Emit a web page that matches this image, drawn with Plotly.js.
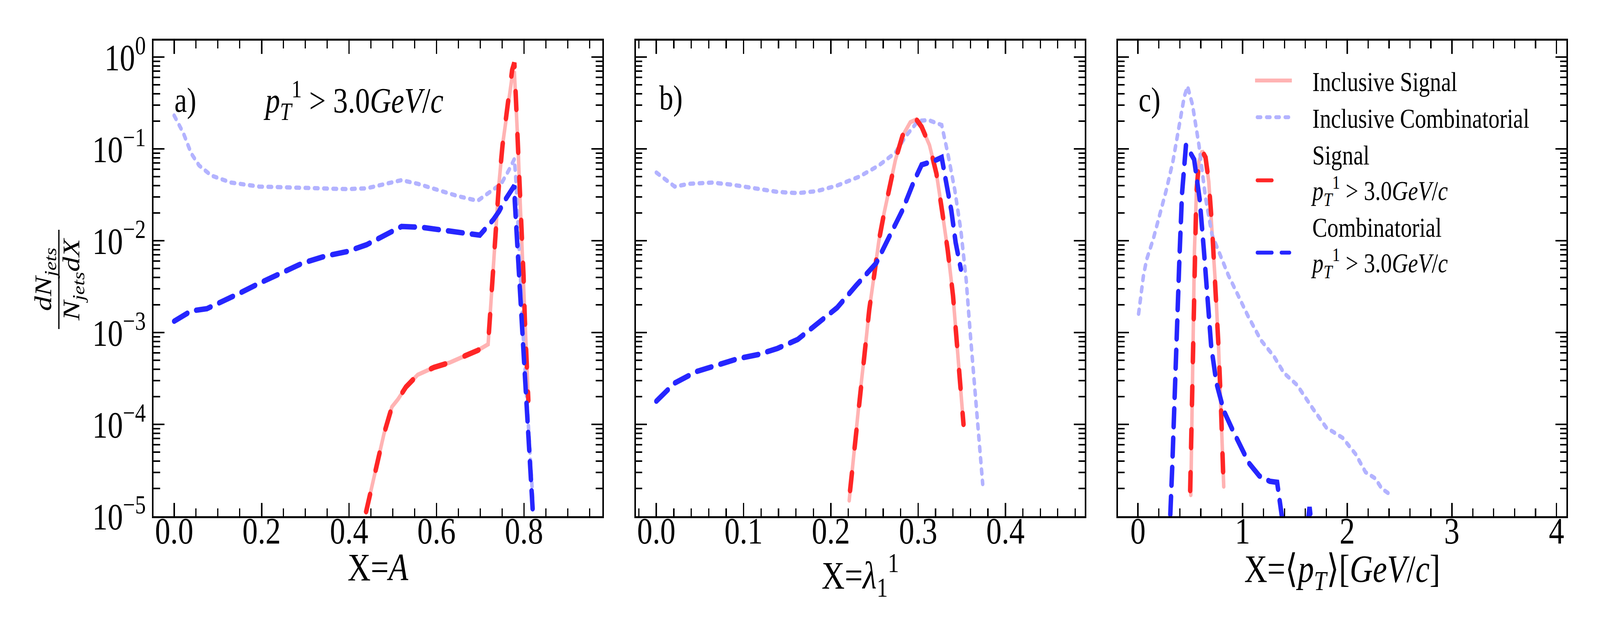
<!DOCTYPE html>
<html>
<head>
<meta charset="utf-8">
<script src="https://cdn.plot.ly/plotly-3.0.1.min.js"></script>
<style>html,body{margin:0;padding:0;background:#fff;overflow:hidden;}</style>
</head>
<body>
<div id="chart" style="width:5000px;height:1625px;"></div>
<script>
// ---------------- DATA ----------------
// Panel a) X = A
const aIncSigX  = [0.439, 0.462, 0.48, 0.498, 0.512, 0.53, 0.557, 0.594, 0.63, 0.666, 0.694, 0.718, 0.728, 0.735, 0.743, 0.751, 0.765, 0.773, 0.778, 0.782, 0.787, 0.79, 0.794, 0.799, 0.802, 0.806, 0.81];
const aIncSigY  = [1.12e-5, 3.5e-5, 7.94e-5, 1.55e-4, 1.88e-4, 2.55e-4, 3.47e-4, 4.17e-4, 4.71e-4, 5.6e-4, 6.38e-4, 7.45e-4, 4.17e-3, 1.45e-2, 4.27e-2, 0.11, 0.331, 0.62, 0.7, 0.331, 0.0933, 0.0372, 0.0123, 4.17e-3, 1.38e-3, 4.68e-4, 1.82e-4];
const aIncCombX = [0, 0.021, 0.039, 0.057, 0.085, 0.13, 0.194, 0.266, 0.33, 0.394, 0.44, 0.475, 0.52, 0.557, 0.60, 0.648, 0.694, 0.72, 0.748, 0.766, 0.778, 0.781, 0.786, 0.792, 0.80, 0.81, 0.82];
const aIncCombY = [0.231, 0.149, 0.0893, 0.0661, 0.0513, 0.043, 0.0389, 0.038, 0.038, 0.0365, 0.0372, 0.0407, 0.0457, 0.0417, 0.0357, 0.0307, 0.0272, 0.0331, 0.0417, 0.0594, 0.0776, 0.0501, 0.0178, 3.98e-3, 6.31e-4, 1.0e-4, 1.58e-5];
const aSigX     = [0.439, 0.462, 0.48, 0.498, 0.512, 0.53, 0.557, 0.594, 0.63, 0.666, 0.694, 0.718, 0.728, 0.735, 0.743, 0.751, 0.765, 0.773, 0.778, 0.782, 0.787, 0.79, 0.794, 0.799, 0.802, 0.806, 0.81];
const aSigY     = [1.12e-5, 3.5e-5, 7.94e-5, 1.55e-4, 1.88e-4, 2.55e-4, 3.47e-4, 4.17e-4, 4.71e-4, 5.6e-4, 6.38e-4, 7.45e-4, 4.17e-3, 1.45e-2, 4.27e-2, 0.11, 0.331, 0.724, 0.87, 0.331, 0.0933, 0.0372, 0.0123, 4.17e-3, 1.38e-3, 4.68e-4, 1.82e-4];
const aCombX    = [0, 0.039, 0.075, 0.112, 0.148, 0.194, 0.239, 0.294, 0.348, 0.394, 0.44, 0.485, 0.52, 0.566, 0.62, 0.666, 0.699, 0.73, 0.743, 0.755, 0.772, 0.778, 0.779, 0.784, 0.791, 0.801, 0.811, 0.819, 0.822];
const aCombY    = [1.33e-3, 1.72e-3, 1.82e-3, 2.17e-3, 2.66e-3, 3.43e-3, 4.3e-3, 5.71e-3, 6.85e-3, 7.59e-3, 9.04e-3, 1.16e-2, 1.43e-2, 1.4e-2, 1.29e-2, 1.2e-2, 1.15e-2, 1.7e-2, 2.09e-2, 2.69e-2, 3.72e-2, 3.98e-2, 2.69e-2, 1.06e-2, 2.4e-3, 3.39e-4, 6.17e-5, 1.62e-5, 8.0e-6];

// Panel b) X = lambda_1^1
const bIncSigX  = [0.221, 0.227, 0.233, 0.239, 0.244, 0.25, 0.255, 0.261, 0.267, 0.274, 0.282, 0.291, 0.298, 0.304, 0.313, 0.321, 0.328, 0.334, 0.34, 0.345, 0.349, 0.352];
const bIncSigY  = [1.48e-5, 5.62e-5, 2.0e-4, 6.31e-4, 1.78e-3, 4.47e-3, 1.0e-2, 2.0e-2, 3.8e-2, 7.59e-2, 0.138, 0.195, 0.209, 0.174, 0.11, 0.0537, 0.0195, 7.76e-3, 2.51e-3, 6.76e-4, 2.0e-4, 1.0e-4];
const bIncCombX = [0, 0.01, 0.021, 0.038, 0.064, 0.087, 0.113, 0.139, 0.162, 0.184, 0.207, 0.233, 0.255, 0.274, 0.285, 0.30, 0.312, 0.327, 0.334, 0.342, 0.349, 0.355, 0.36, 0.366, 0.372, 0.374];
const bIncCombY = [0.0553, 0.0471, 0.0389, 0.0417, 0.043, 0.0407, 0.0376, 0.034, 0.033, 0.0347, 0.0398, 0.0501, 0.0661, 0.0912, 0.134, 0.202, 0.206, 0.182, 0.0893, 0.0357, 0.0129, 3.8e-3, 9.12e-4, 2.0e-4, 4.3e-5, 2.24e-5];
const bSigX     = [0.222, 0.227, 0.233, 0.239, 0.244, 0.25, 0.255, 0.261, 0.267, 0.274, 0.282, 0.291, 0.298, 0.304, 0.313, 0.321, 0.328, 0.334, 0.34, 0.345, 0.349, 0.352];
const bSigY     = [1.9e-5, 5.62e-5, 2.0e-4, 6.31e-4, 1.78e-3, 4.47e-3, 1.0e-2, 2.0e-2, 3.8e-2, 7.59e-2, 0.138, 0.195, 0.209, 0.174, 0.11, 0.0537, 0.0195, 7.76e-3, 2.51e-3, 6.76e-4, 2.0e-4, 1.0e-4];
const bCombX    = [0, 0.021, 0.046, 0.068, 0.094, 0.117, 0.139, 0.162, 0.184, 0.207, 0.229, 0.252, 0.267, 0.282, 0.295, 0.304, 0.319, 0.327, 0.332, 0.338, 0.343, 0.349];
const bCombY    = [1.79e-4, 2.82e-4, 3.76e-4, 4.34e-4, 5.21e-4, 5.77e-4, 6.73e-4, 8.41e-4, 1.24e-3, 1.86e-3, 3.26e-3, 5.71e-3, 1.11e-2, 2.15e-2, 4.39e-2, 6.71e-2, 7.45e-2, 8.07e-2, 4.39e-2, 2.15e-2, 9.55e-3, 4.9e-3];

// Panel c) X = <pT> [GeV/c]
const cIncSigX  = [0.505, 0.515, 0.527, 0.54, 0.558, 0.583, 0.615, 0.646, 0.677, 0.708, 0.74, 0.771, 0.793, 0.808, 0.82];
const cIncSigY  = [1.7e-5, 1.62e-4, 1.24e-3, 7.76e-3, 3.24e-2, 7.29e-2, 9.5e-2, 8.07e-2, 4.39e-2, 1.43e-2, 3.43e-3, 6.71e-4, 1.62e-4, 5.82e-5, 2.1e-5];
const cIncCombX = [0.006, 0.053, 0.084, 0.147, 0.209, 0.271, 0.334, 0.396, 0.443, 0.474, 0.521, 0.583, 0.646, 0.708, 0.771, 0.864, 0.958, 1.051, 1.176, 1.30, 1.395, 1.52, 1.676, 1.80, 1.956, 2.08, 2.175, 2.268, 2.33, 2.424];
const cIncCombY = [1.6e-3, 4.21e-3, 6.31e-3, 1.05e-2, 1.94e-2, 3.57e-2, 7.29e-2, 0.182, 0.372, 0.48, 0.303, 0.11, 0.0292, 0.0116, 7.76e-3, 4.21e-3, 2.53e-3, 1.52e-3, 8.24e-4, 5.5e-4, 3.63e-4, 2.69e-4, 1.46e-4, 9.23e-5, 7.14e-5, 4.75e-5, 3.02e-5, 2.58e-5, 2.0e-5, 1.68e-5];
const cSigX     = [0.499, 0.515, 0.527, 0.54, 0.558, 0.583, 0.615, 0.646, 0.677, 0.708, 0.74, 0.771, 0.793, 0.808, 0.817];
const cSigY     = [1.9e-5, 1.62e-4, 1.24e-3, 7.76e-3, 3.24e-2, 7.29e-2, 9.4e-2, 8.07e-2, 4.39e-2, 1.43e-2, 3.43e-3, 6.71e-4, 1.62e-4, 5.82e-5, 2.34e-5];
const cCombX    = [0.305, 0.309, 0.328, 0.349, 0.371, 0.396, 0.421, 0.443, 0.459, 0.537, 0.59, 0.63, 0.67, 0.70, 0.75, 0.82, 0.90, 0.98, 1.06, 1.16, 1.26, 1.33, 1.37, 1.40, 1.60, 1.64, 1.68];
const cCombY    = [5.0e-6, 1.03e-5, 3.5e-5, 2.19e-4, 1.51e-3, 6.31e-3, 3.24e-2, 8.51e-2, 0.11, 7.67e-2, 2.82e-2, 7.94e-3, 2.0e-3, 7.08e-4, 2.82e-4, 1.41e-4, 8.91e-5, 5.89e-5, 3.8e-5, 2.75e-5, 2.4e-5, 2.34e-5, 1.2e-5, 6.3e-6, 5.0e-6, 1.26e-5, 5.0e-6];

// Labels
const seriesNames = ["Inclusive Signal", "Inclusive Combinatorial",
  "Signal<br><i>p</i><sub><i>T</i></sub><sup>1</sup> > 3.0<i>GeV</i>/<i>c</i>",
  "Combinatorial<br><i>p</i><sub><i>T</i></sub><sup>1</sup> > 3.0<i>GeV</i>/<i>c</i>"];
const yTickVals = [1e-5, 1e-4, 1e-3, 1e-2, 1e-1, 1];
const yTickText = ["10<sup>−5</sup>", "10<sup>−4</sup>", "10<sup>−3</sup>", "10<sup>−2</sup>", "10<sup>−1</sup>", "10<sup>0</sup>"];
const xTitles = ["X=<i>A</i>", "X=<i>λ</i><sub>1</sub><sup>1</sup>", "X=⟨<i>p</i><sub><i>T</i></sub>⟩[<i>GeV</i>/<i>c</i>]"];
const panelTags = ["a)", "b)", "c)"];
const cutLabel = "<i>p</i><sub><i>T</i></sub><sup>1</sup> > 3.0<i>GeV</i>/<i>c</i>";
const yTitleNum = "<i>dN</i><sub><i>jets</i></sub>";
const yTitleDen = "<i>N</i><sub><i>jets</i></sub><i>dX</i>";

// ---------------- STYLE ----------------
const FONT = "Liberation Serif";
const W = 5000, H = 1625;
const styles = [
  {color: "#ffb3b3", width: 11, dash: "solid"},
  {color: "#b3b3ff", width: 11, dash: "11px,18px"},
  {color: "#ff2626", width: 14, dash: "46px,64px"},
  {color: "#2626ff", width: 14, dash: "46px,29px"}
];

const panels = [
  {xs: [aIncSigX, aIncCombX, aSigX, aCombX], ys: [aIncSigY, aIncCombY, aSigY, aCombY]},
  {xs: [bIncSigX, bIncCombX, bSigX, bCombX], ys: [bIncSigY, bIncCombY, bSigY, bCombY]},
  {xs: [cIncSigX, cIncCombX, cSigX, cCombX], ys: [cIncSigY, cIncCombY, cSigY, cCombY]}
];

const traces = [];
panels.forEach((p, pi) => {
  const sfx = pi === 0 ? "" : String(pi + 1);
  for (let k = 0; k < 4; k++) {
    traces.push({
      type: "scatter", mode: "lines",
      x: p.xs[k], y: p.ys[k],
      xaxis: "x" + sfx, yaxis: "y" + sfx,
      name: seriesNames[k],
      showlegend: pi === 2,
      line: {color: styles[k].color, width: styles[k].width, dash: styles[k].dash, shape: "linear"},
      hoverinfo: "skip"
    });
  }
});

// plot boxes in pixels of the 5000x1625 figure
const boxX = [[480, 1882], [1987, 3390], [3494, 4895]];
const boxTop = 104, boxBot = 1321;
const xRanges = [[-0.047, 0.979], [-0.0235, 0.491], [-0.19, 4.095]];
const xDticks = [0.2, 0.1, 1];
const xMinor = [0.05, 0.02, 0.2];
const xFormats = [".1f", ".1f", "d"];
const xTitleShift = [-16, -10, -12];

const tickFont = {family: FONT, size: 96, color: "black"};
const layout = {
  width: W, height: H,
  margin: {l: 0, r: 0, t: 0, b: 0},
  paper_bgcolor: "white", plot_bgcolor: "white",
  showlegend: true,
  legend: {
    x: 3917 / W, xanchor: "left", y: 1 - 154 / H, yanchor: "top",
    font: {family: FONT, size: 70, color: "black"},
    bgcolor: "rgba(0,0,0,0)", borderwidth: 0, itemwidth: 174,
    valign: "middle", traceorder: "normal"
  },
  annotations: [], shapes: []
};

for (let i = 0; i < 3; i++) {
  const sfx = i === 0 ? "" : String(i + 1);
  layout["xaxis" + sfx] = {
    domain: [boxX[i][0] / W, boxX[i][1] / W],
    anchor: "y" + sfx, range: xRanges[i], type: "linear",
    tick0: 0, dtick: xDticks[i], tickformat: xFormats[i],
    ticks: "inside", ticklen: 34, tickwidth: 4.5, tickcolor: "black",
    mirror: "allticks", showline: true, linewidth: 5, linecolor: "black",
    showgrid: false, zeroline: false,
    minor: {ticks: "inside", ticklen: 20, tickwidth: 4, tickcolor: "black", tick0: 0, dtick: xMinor[i], showgrid: false},
    tickfont: tickFont, ticklabelstandoff: -50,
    title: {text: xTitles[i], font: {family: FONT, size: 100, color: "black"}, standoff: 8},
    automargin: false
  };
  layout["yaxis" + sfx] = {
    domain: [1 - boxBot / H, 1 - boxTop / H],
    anchor: "x" + sfx, type: "log", range: [-5, 0.179],
    tickmode: "array", tickvals: yTickVals, ticktext: yTickText,
    showticklabels: i === 0,
    ticks: "inside", ticklen: 34, tickwidth: 4.5, tickcolor: "black",
    mirror: "allticks", showline: true, linewidth: 5, linecolor: "black",
    showgrid: false, zeroline: false,
    minor: {ticks: "inside", ticklen: 20, tickwidth: 4, tickcolor: "black", dtick: "D1", showgrid: false},
    tickfont: tickFont,
    automargin: false
  };
}

// y title as a fraction: numerator, bar, denominator
layout.annotations.push({xref: "paper", yref: "paper", x: 140 / W, y: 1 - 715 / H,
  xanchor: "center", yanchor: "middle", textangle: -90, showarrow: false, text: yTitleNum,
  font: {family: FONT, size: 76, color: "black"}});
layout.annotations.push({xref: "paper", yref: "paper", x: 228 / W, y: 1 - 715 / H,
  xanchor: "center", yanchor: "middle", textangle: -90, showarrow: false, text: yTitleDen,
  font: {family: FONT, size: 76, color: "black"}});
layout.shapes.push({type: "line", xref: "paper", yref: "paper",
  x0: 184 / W, x1: 184 / W, y0: 1 - 588 / H, y1: 1 - 842 / H,
  line: {color: "black", width: 4}});

const tagPos = [[543, 257], [2058, 250], [3556, 255]];
for (let i = 0; i < 3; i++) {
  layout.annotations.push({xref: "paper", yref: "paper", x: tagPos[i][0] / W, y: 1 - tagPos[i][1] / H,
    xanchor: "left", yanchor: "middle", showarrow: false, text: panelTags[i],
    font: {family: FONT, size: 88, color: "black"}});
}
layout.annotations.push({xref: "paper", yref: "paper", x: 821 / W, y: 1 - 257 / H,
  xanchor: "left", yanchor: "middle", showarrow: false, text: cutLabel,
  font: {family: FONT, size: 92, color: "black"}});

function addShift(el, dy) {
  const prev = el.getAttribute("transform") || "";
  el.setAttribute("transform", (prev + " translate(0," + dy + ")").trim());
}

const chart = document.getElementById("chart");
Plotly.newPlot(chart, traces, layout, {staticPlot: true, displayModeBar: false}).then(gd => {
  gd.querySelectorAll(".scatterlayer path.js-line").forEach(p => { p.style.strokeLinecap = "round"; });
  // longer legend samples, like the reference; two-line entries get their sample lowered
  gd.querySelectorAll(".legend .traces").forEach((t, idx) => {
    const path = t.querySelector(".legendlines path");
    const dy = idx >= 2 ? 22 : 0;
    if (path) {
      if (idx === 0) { path.setAttribute("d", "M5," + dy + "h115"); }
      else { path.setAttribute("d", "M12," + dy + "h101"); path.style.strokeLinecap = "round"; }
    }
  });
  // nudge the axis titles to the reference distance below the tick labels
  ["g-xtitle", "g-x2title", "g-x3title"].forEach((c, i) => {
    const g = gd.querySelector("." + c);
    if (g) addShift(g, xTitleShift[i]);
  });
  // the browser window may be narrower than the 5000x1625 figure: fit it to the window
  const sx = Math.min(1, window.innerWidth / W), sy = Math.min(1, window.innerHeight / H);
  chart.style.transformOrigin = "0 0";
  chart.style.transform = "scale(" + sx + "," + sy + ")";
});
</script>
</body>
</html>
